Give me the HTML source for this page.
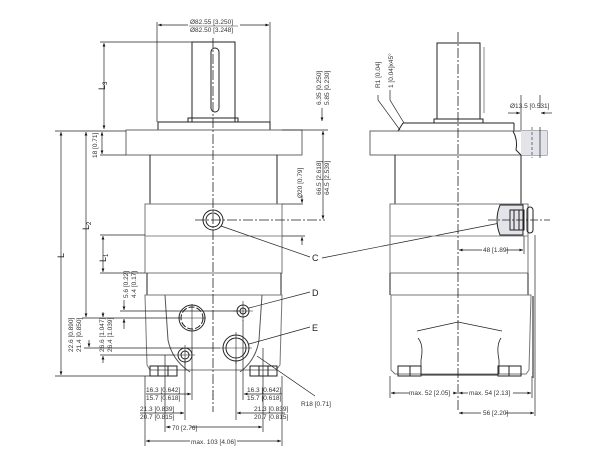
<!DOCTYPE html>
<html><head><meta charset="utf-8"><style>
html,body{margin:0;padding:0;background:#fff;}
svg{display:block;}
text{font-family:"Liberation Sans",sans-serif;font-size:6.5px;fill:#333;}
.b{font-size:9px;fill:#222;}
</style></head><body>
<svg width="603" height="474" viewBox="0 0 603 474" xmlns="http://www.w3.org/2000/svg">
<defs>
<marker id="a" viewBox="0 0 10 10" refX="10" refY="5" markerWidth="6" markerHeight="5" orient="auto-start-reverse"><path d="M0,1 L10,5 L0,9z" fill="#111"/></marker>
</defs>
<g fill="none" stroke="#222" stroke-width="1">
<!-- LEFT VIEW -->
<rect x="192" y="42" width="43" height="80"/>
<rect x="211" y="48" width="8" height="64" rx="4"/>
<rect x="188" y="118" width="50" height="4"/>
<rect x="158" y="122" width="112" height="8"/>
<rect x="126" y="130" width="176" height="25" stroke="#666"/>
<line x1="150" y1="155" x2="150" y2="204"/><line x1="277" y1="155" x2="277" y2="204"/>
<rect x="145" y="204" width="137" height="69" stroke="#777"/>
<line x1="145" y1="236" x2="282" y2="236" stroke="#888"/>
<line x1="147" y1="273" x2="147" y2="295"/><line x1="281" y1="273" x2="281" y2="295"/>
<path d="M145,295 L282,295 L280,365 L276,370 L150,370 L147,365 Z" stroke="#777"/>
<path d="M165,295 L168,340 Q172,360 190,372 M262,295 L259,340 Q256,360 240,372" stroke="#555"/>
<rect x="150" y="366" width="27" height="10"/><rect x="250" y="366" width="27" height="10"/>
<line x1="158" y1="366" x2="158" y2="376"/><line x1="168" y1="366" x2="168" y2="376"/>
<line x1="259" y1="366" x2="259" y2="376"/><line x1="268" y1="366" x2="268" y2="376"/>
<circle cx="213" cy="220" r="10"/><circle cx="213" cy="220" r="7"/>
<circle cx="192" cy="318" r="13"/><circle cx="192" cy="318" r="11" stroke-dasharray="6 2"/>
<circle cx="243" cy="311" r="6"/><circle cx="243" cy="311" r="3"/>
<circle cx="236" cy="348" r="13"/><circle cx="236" cy="348" r="10"/>
<circle cx="185" cy="355" r="7"/><circle cx="185" cy="355" r="4"/>
<g stroke-width="0.6">
<line x1="178" y1="318" x2="206" y2="318"/><line x1="192" y1="304" x2="192" y2="332"/>
<line x1="233" y1="311" x2="253" y2="311"/><line x1="243" y1="301" x2="243" y2="321"/>
<line x1="220" y1="348" x2="252" y2="348"/><line x1="236" y1="332" x2="236" y2="364"/>
<line x1="175" y1="355" x2="195" y2="355"/><line x1="185" y1="345" x2="185" y2="365"/>
</g>
<line x1="213" y1="38" x2="213" y2="412" stroke-dasharray="10 2 2 2" stroke-width="0.8"/>
<line x1="195" y1="220" x2="325" y2="220" stroke-dasharray="10 2 2 2" stroke-width="0.8"/>
<!-- leaders -->
<g stroke-width="0.7">
<line x1="221" y1="226" x2="310" y2="257"/>
<line x1="249" y1="308" x2="310" y2="292"/>
<line x1="249" y1="344" x2="310" y2="327"/>
<line x1="257" y1="356" x2="315" y2="396"/>
<line x1="322" y1="258" x2="500" y2="223"/>
<!-- left dims -->
<line x1="157" y1="22" x2="157" y2="122"/><line x1="270" y1="22" x2="270" y2="122"/>
<line x1="158" y1="25" x2="269" y2="25" marker-start="url(#a)" marker-end="url(#a)"/>
<line x1="100" y1="42" x2="192" y2="42"/><line x1="55" y1="131" x2="126" y2="131"/>
<line x1="100" y1="155" x2="126" y2="155"/>
<line x1="104" y1="43" x2="104" y2="129" marker-start="url(#a)" marker-end="url(#a)"/>
<line x1="102" y1="132" x2="102" y2="154" marker-start="url(#a)" marker-end="url(#a)"/>
<line x1="61" y1="132" x2="61" y2="375" marker-start="url(#a)" marker-end="url(#a)"/>
<line x1="86" y1="132" x2="86" y2="317" marker-start="url(#a)" marker-end="url(#a)"/>
<line x1="100" y1="235" x2="145" y2="235"/><line x1="100" y1="273" x2="145" y2="273"/>
<line x1="103" y1="236" x2="103" y2="272" marker-start="url(#a)" marker-end="url(#a)"/>
<line x1="55" y1="376" x2="150" y2="376"/>
<line x1="82" y1="318" x2="180" y2="318"/><line x1="120" y1="311" x2="240" y2="311"/>
<line x1="84" y1="348" x2="220" y2="348"/><line x1="100" y1="355" x2="175" y2="355"/>
<line x1="124" y1="300" x2="124" y2="310" marker-end="url(#a)"/><line x1="124" y1="329" x2="124" y2="319" marker-end="url(#a)"/>
<line x1="89" y1="340" x2="89" y2="347" marker-end="url(#a)"/>
<line x1="103" y1="312" x2="103" y2="317" marker-end="url(#a)"/><line x1="103" y1="363" x2="103" y2="356" marker-end="url(#a)"/>
<line x1="282" y1="130" x2="328" y2="130"/><line x1="282" y1="204" x2="303" y2="204"/>
<line x1="322" y1="108" x2="322" y2="121" marker-end="url(#a)"/>
<line x1="323" y1="131" x2="323" y2="219" marker-start="url(#a)" marker-end="url(#a)"/>
<line x1="302" y1="195" x2="302" y2="203" marker-end="url(#a)"/><line x1="302" y1="245" x2="302" y2="237" marker-end="url(#a)"/>
<line x1="282" y1="236" x2="305" y2="236"/>
<!-- bottom dims -->
<line x1="145" y1="376" x2="145" y2="446"/><line x1="282" y1="376" x2="282" y2="446"/>
<line x1="165" y1="355" x2="165" y2="432"/><line x1="263" y1="348" x2="263" y2="432"/>
<line x1="185" y1="360" x2="185" y2="420"/><line x1="236" y1="360" x2="236" y2="420"/>
<line x1="192" y1="332" x2="192" y2="400"/><line x1="243" y1="320" x2="243" y2="400"/>
<line x1="146" y1="394" x2="191" y2="394" marker-end="url(#a)"/><line x1="282" y1="394" x2="244" y2="394" marker-end="url(#a)"/>
<line x1="140" y1="413" x2="184" y2="413" marker-end="url(#a)"/><line x1="285" y1="413" x2="237" y2="413" marker-end="url(#a)"/>
<line x1="166" y1="427" x2="262" y2="427" marker-start="url(#a)" marker-end="url(#a)"/>
<line x1="146" y1="441" x2="281" y2="441" marker-start="url(#a)" marker-end="url(#a)"/>
<line x1="213" y1="390" x2="213" y2="400" stroke-dasharray="2 2"/>
</g>
<!-- RIGHT VIEW -->
<rect x="437" y="43" width="43" height="76"/>
<line x1="484" y1="47" x2="484" y2="113" stroke="#888"/>
<rect x="434" y="119" width="49" height="4"/>
<line x1="403" y1="123" x2="514" y2="123"/><line x1="403" y1="123" x2="398" y2="131"/><line x1="514" y1="123" x2="514" y2="131"/>
<rect x="370" y="131" width="177" height="24" stroke="#666"/>
<rect x="521" y="131" width="26" height="24" fill="#e3e3ea" stroke="none"/>
<path d="M513,131 Q518,140 516,150 L521,155" />
<line x1="532" y1="127" x2="532" y2="158" stroke-dasharray="3 2" stroke-width="0.6"/>
<line x1="540" y1="127" x2="540" y2="158" stroke-width="0.7"/>
<line x1="395" y1="155" x2="395" y2="204"/><line x1="521" y1="155" x2="521" y2="204"/>
<rect x="390" y="204" width="138" height="69" stroke="#777"/>
<line x1="390" y1="236" x2="528" y2="236" stroke="#888"/>
<path d="M500,205 Q494,220 500,235 L523,235 L523,205 Z" fill="#e3e3ea" stroke="#222"/>
<rect x="510" y="210" width="14" height="20"/>
<line x1="514" y1="210" x2="514" y2="230"/><line x1="519" y1="210" x2="519" y2="230"/>
<rect x="527" y="207" width="6" height="26" rx="3"/>
<line x1="488" y1="220" x2="550" y2="220" stroke-dasharray="8 2 2 2" stroke-width="0.7"/>
<line x1="390" y1="273" x2="390" y2="295"/><line x1="528" y1="273" x2="528" y2="295"/>
<path d="M391,295 L531,295 L529,370 L526,374 L395,374 L391,370 Z" stroke="#777"/>
<line x1="533" y1="296" x2="533" y2="378" stroke="#888" stroke-width="2"/>
<path d="M417,331 L458,322 L502,331" stroke-width="0.8"/>
<path d="M418,338 Q424,345 421,360 L421,374 M501,338 Q496,345 499,360 L499,374" stroke-width="0.8"/>
<rect x="398" y="366" width="23" height="10"/><rect x="498" y="366" width="23" height="10"/>
<line x1="410" y1="366" x2="410" y2="376"/><line x1="509" y1="366" x2="509" y2="376"/>
<line x1="421" y1="375" x2="498" y2="375"/>
<line x1="458" y1="32" x2="458" y2="412" stroke-dasharray="10 2 2 2" stroke-width="0.8"/>
<g stroke-width="0.7">
<path d="M378,95 L378,100 L400,130"/><path d="M390,90 L390,100 L404,123"/>
<line x1="521" y1="95" x2="521" y2="130"/><line x1="540" y1="95" x2="540" y2="108"/>
<line x1="508" y1="113" x2="520" y2="113" marker-end="url(#a)"/><line x1="552" y1="113" x2="541" y2="113" marker-end="url(#a)"/>
<line x1="524" y1="236" x2="524" y2="254"/>
<line x1="459" y1="250" x2="523" y2="250" marker-start="url(#a)" marker-end="url(#a)"/>
<line x1="390" y1="376" x2="390" y2="398"/><line x1="532" y1="376" x2="532" y2="398"/>
<line x1="535" y1="235" x2="535" y2="416"/>
<line x1="391" y1="393" x2="457" y2="393" marker-start="url(#a)" marker-end="url(#a)"/>
<line x1="459" y1="393" x2="531" y2="393" marker-start="url(#a)" marker-end="url(#a)"/>
<line x1="459" y1="413" x2="534" y2="413" marker-start="url(#a)" marker-end="url(#a)"/>
</g>
</g>
<!-- texts -->
<g fill="#fff" stroke="none">
<rect x="188" y="19" width="52" height="14"/>
<rect x="171" y="423" width="20" height="8"/><rect x="190" y="437" width="47" height="8"/>
<rect x="409" y="389" width="44" height="8"/><rect x="468" y="389" width="45" height="8"/>
<rect x="482" y="246" width="24" height="8"/><rect x="481" y="409" width="24" height="8"/>
</g>
<text x="190" y="24">Ø82.55 [3.250]</text>
<line x1="189" y1="26" x2="238" y2="26" stroke="#333" stroke-width="0.5"/>
<text x="190" y="32">Ø82.50 [3.248]</text>
<text class="b" transform="translate(105,90) rotate(-90)">L<tspan font-size="6" dy="2">3</tspan></text>
<text class="b" transform="translate(89,230) rotate(-90)">L<tspan font-size="6" dy="2">2</tspan></text>
<text class="b" transform="translate(64,258) rotate(-90)">L</text>
<text class="b" transform="translate(106,262) rotate(-90)">L<tspan font-size="6" dy="2">1</tspan></text>
<text transform="translate(97,158) rotate(-90)">18 [0.71]</text>
<text transform="translate(321,105) rotate(-90)">6.35 [0.250]</text>
<text transform="translate(329,105) rotate(-90)">5.85 [0.230]</text>
<text transform="translate(302,198) rotate(-90)">Ø20 [0.79]</text>
<text transform="translate(321,195) rotate(-90)">66.5 [2.618]</text>
<text transform="translate(329,195) rotate(-90)">64.5 [2.539]</text>
<text transform="translate(128,298) rotate(-90)">5.6 [0.22]</text>
<text transform="translate(136,298) rotate(-90)">4.4 [0.17]</text>
<text transform="translate(73,352) rotate(-90)">22.6 [0.890]</text>
<text transform="translate(81,352) rotate(-90)">21.4 [0.850]</text>
<text transform="translate(104,352) rotate(-90)">26.6 [1.047]</text>
<text transform="translate(112,352) rotate(-90)">26.4 [1.039]</text>
<text class="b" x="312" y="261">C</text>
<text class="b" x="312" y="296">D</text>
<text class="b" x="312" y="331">E</text>
<text x="301" y="406">R18 [0.71]</text>
<text x="146" y="392">16.3 [0.642]</text><text x="146" y="400">15.7 [0.618]</text>
<text x="247" y="392">16.3 [0.642]</text><text x="247" y="400">15.7 [0.618]</text>
<text x="140" y="411">21.3 [0.839]</text><text x="140" y="419">20.7 [0.815]</text>
<text x="254" y="411">21.3 [0.839]</text><text x="254" y="419">20.7 [0.815]</text>
<text x="172" y="430">70 [2.76]</text>
<text x="191" y="444">max. 103 [4.06]</text>
<text transform="translate(380,88) rotate(-90)">R1 [0.04]</text>
<text transform="translate(393,88) rotate(-90)">1 [0.04]x45°</text>
<text x="510" y="108">Ø13.5 [0.531]</text>
<text x="483" y="252">48 [1.89]</text>
<text x="409" y="395">max. 52 [2.05]</text>
<text x="469" y="395">max. 54 [2.13]</text>
<text x="483" y="415">56 [2.20]</text>
</svg>
</body></html>
